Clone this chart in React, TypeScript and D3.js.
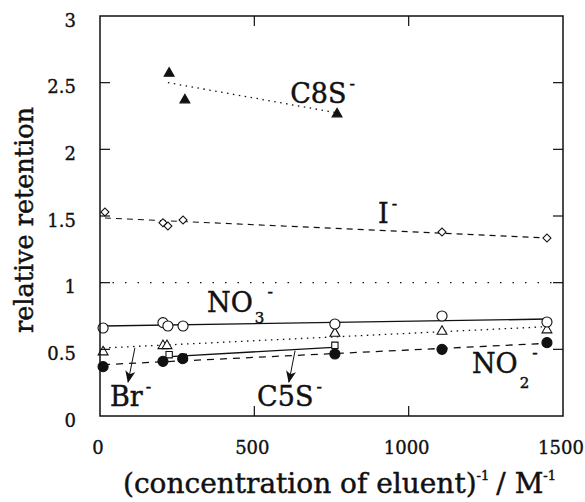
import React from 'react';
import * as d3 from 'd3';

const W = 585;
const H = 502;

const xTicks = [0, 500, 1000, 1500];
const yTicks = [0, 0.5, 1, 1.5, 2, 2.5, 3];

// measured points
const c8sX = [224, 275, 768];
const c8sY = [2.57, 2.37, 2.265];
const iodX = [16, 204, 220, 269, 1108, 1448];
const iodY = [1.53, 1.45, 1.425, 1.47, 1.38, 1.335];
const no3X = [10, 204, 220, 269, 761, 1108, 1448];
const no3Y = [0.66, 0.7, 0.675, 0.675, 0.69, 0.75, 0.705];
const brX = [10, 204, 217, 761, 1108, 1448];
const brY = [0.48, 0.527, 0.527, 0.62, 0.634, 0.645];
const c5sX = [224, 270, 761];
const c5sY = [0.46, 0.44, 0.53];
const no2X = [10, 204, 268, 761, 1108, 1448];
const no2Y = [0.37, 0.41, 0.43, 0.465, 0.5, 0.55];

// fitted lines (end points)
const c8sFitX = [220, 765];
const c8sFitY = [2.5, 2.275];
const iodFitX = [16, 1448];
const iodFitY = [1.485, 1.335];
const no3FitX = [10, 1448];
const no3FitY = [0.675, 0.727];
const brFitX = [10, 1448];
const brFitY = [0.51, 0.67];
const c5sFitX = [227, 755];
const c5sFitY = [0.445, 0.515];
const no2FitX = [10, 1448];
const no2FitY = [0.385, 0.545];
const refX = [0, 1500];
const refY = [1, 1];

const zip = (xs: number[], ys: number[]) => xs.map((x, i) => [x, ys[i]] as [number, number]);

const App = () => {
  const m = { left: 100, right: 563, top: 16, bottom: 416 };
  const x = d3.scaleLinear().domain([0, 1500]).range([m.left, m.right]);
  const y = d3.scaleLinear().domain([0, 3]).range([m.bottom, m.top]);
  const line = d3.line<[number, number]>().x(d => x(d[0])).y(d => y(d[1]));
  const font = '"DejaVu Serif", serif';
  const ink = '#111';

  const fits = [
    { d: zip(refX, refY), dash: '1.5,11', w: 1.3 },
    { d: zip(c8sFitX, c8sFitY), dash: '1.5,4.5', w: 1.3 },
    { d: zip(iodFitX, iodFitY), dash: '6,5', w: 1.2 },
    { d: zip(no3FitX, no3FitY), dash: null, w: 1.4 },
    { d: zip(brFitX, brFitY), dash: '1.5,4.5', w: 1.3 },
    { d: zip(c5sFitX, c5sFitY), dash: null, w: 1.4 },
    { d: zip(no2FitX, no2FitY), dash: '7,6', w: 1.3 },
  ];

  const tri = d3.symbol().type(d3.symbolTriangle).size(42)()!;
  const circ = d3.symbol().type(d3.symbolCircle).size(80)()!;
  const sq = d3.symbol().type(d3.symbolSquare).size(40)()!;
  const dia = d3.symbol().type(d3.symbolSquare).size(32)()!;

  const series = [
    { pts: zip(c5sX, c5sY), path: sq, fill: 'white', rot: 0 },
    { pts: zip(no2X, no2Y), path: circ, fill: ink, rot: 0 },
    { pts: zip(brX, brY), path: tri, fill: 'white', rot: 0 },
    { pts: zip(no3X, no3Y), path: circ, fill: 'white', rot: 0 },
    { pts: zip(iodX, iodY), path: dia, fill: 'white', rot: 45 },
    { pts: zip(c8sX, c8sY), path: tri, fill: ink, rot: 0 },
  ];

  const labels = [
    { main: 'C8S', sub: '', x: 616, y: 2.35, subDy: 0, supDy: -14 },
    { main: 'I', sub: '', x: 901, y: 1.45, subDy: 0, supDy: -14 },
    { main: 'NO', sub: '3', x: 347, y: 0.78, subDy: 11, supDy: -26 },
    { main: 'Br', sub: '', x: 32, y: 0.075, subDy: 0, supDy: -14 },
    { main: 'C5S', sub: '', x: 509, y: 0.075, subDy: 0, supDy: -14 },
    { main: 'NO', sub: '2', x: 1205, y: 0.32, subDy: 15, supDy: -30 },
  ];

  const arrows = [
    { from: [113, 0.51], to: [91, 0.255] },
    { from: [632, 0.49], to: [612, 0.255] },
  ];

  const tickLen = 10;

  return (
    <svg width={W} height={H} style={{ position: 'absolute', left: 0, top: 0, background: 'white' }}>
      <defs>
        <marker id="head" viewBox="0 0 12 10" refX="11" refY="5" markerWidth="12" markerHeight="10"
          markerUnits="userSpaceOnUse" orient="auto">
          <path d="M0,0 L12,5 L0,10 L3,5 z" fill={ink} />
        </marker>
      </defs>

      {fits.map((f, i) => (
        <path key={i} d={line(f.d)!} fill="none" stroke={ink} strokeWidth={f.w}
          strokeDasharray={f.dash ?? undefined} />
      ))}

      {arrows.map((a, i) => (
        <line key={i} x1={x(a.from[0])} y1={y(a.from[1])} x2={x(a.to[0])} y2={y(a.to[1])}
          stroke={ink} strokeWidth={1} markerEnd="url(#head)" />
      ))}

      {series.map((s, i) => (
        <g key={i}>
          {s.pts.map((p, j) => (
            <path key={j} d={s.path} transform={`translate(${x(p[0])},${y(p[1])}) rotate(${s.rot})`}
              fill={s.fill} stroke={ink} strokeWidth={1.1} />
          ))}
        </g>
      ))}

      {/* frame and ticks */}
      <rect x={m.left} y={m.top} width={m.right - m.left} height={m.bottom - m.top}
        fill="none" stroke={ink} strokeWidth={1.5} />
      {yTicks.filter(t => t > 0 && t < 3).map(t => (
        <g key={t}>
          <line x1={m.left} x2={m.left + tickLen} y1={y(t)} y2={y(t)} stroke={ink} strokeWidth={1.2} />
          <line x1={m.right} x2={m.right - tickLen} y1={y(t)} y2={y(t)} stroke={ink} strokeWidth={1.2} />
        </g>
      ))}
      {xTicks.filter(t => t > 0 && t < 1500).map(t => (
        <g key={t}>
          <line x1={x(t)} x2={x(t)} y1={m.bottom} y2={m.bottom - tickLen} stroke={ink} strokeWidth={1.2} />
          <line x1={x(t)} x2={x(t)} y1={m.top} y2={m.top + tickLen} stroke={ink} strokeWidth={1.2} />
        </g>
      ))}

      <g fontFamily={font} fill={ink} stroke={ink} strokeWidth={0.35}>
        {yTicks.map(t => (
          <text key={t} x={76} y={y(t) + 10.5} textAnchor="end" fontSize={18}>
            {t}
          </text>
        ))}
        {xTicks.map(t => (
          <text key={t} x={x(t) - 2} y={454} textAnchor="middle" fontSize={18}>
            {t}
          </text>
        ))}
      </g>

      <g fontFamily={font} fill={ink} stroke={ink} strokeWidth={0.45}>
        <text transform={`translate(33,220) rotate(-90)`} textAnchor="middle" fontSize={25.5}>
          relative retention
        </text>

        <text x={123} y={493} fontSize={28}>
          (concentration of eluent)
          <tspan fontSize={13} dy={-13}>-1</tspan>
          <tspan fontSize={28} dx={7} dy={13}>/</tspan>
          <tspan fontSize={28} dx={9}>M</tspan>
          <tspan fontSize={13} dy={-13}>-1</tspan>
        </text>

        {labels.map((l, i) => (
          <text key={i} x={x(l.x)} y={y(l.y)} fontSize={27}>
            {l.main}
            {l.sub && <tspan fontSize={15} dx={2} dy={l.subDy}>{l.sub}</tspan>}
            <tspan fontSize={16} dx={3} dy={l.supDy}>-</tspan>
          </text>
        ))}
      </g>
    </svg>
  );
};

export default App;
